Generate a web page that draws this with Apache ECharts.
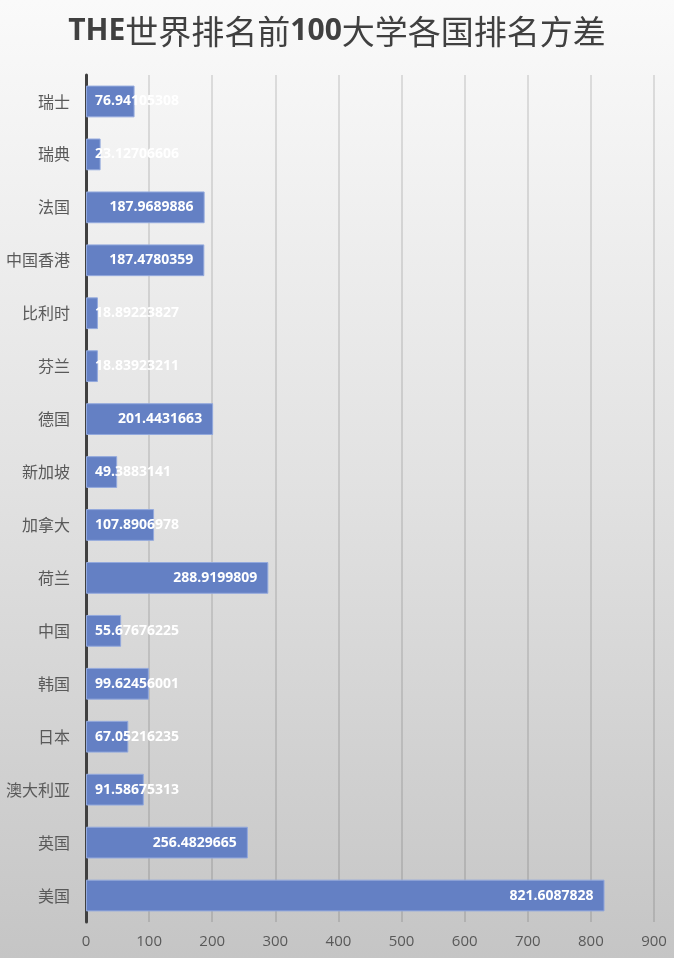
<!DOCTYPE html>
<html>
<head>
<meta charset="utf-8">
<script src="https://cdn.jsdelivr.net/npm/echarts@6/dist/echarts.min.js"></script>
<style>
  html, body { margin: 0; padding: 0; }
  #chart-container { width: 674px; height: 958px; }
</style>
</head>
<body>
<div id="chart-container"></div>
<script>
// 国家（自下而上）
var countries = ["美国", "英国", "澳大利亚", "日本", "韩国", "中国", "荷兰", "加拿大",
  "新加坡", "德国", "芬兰", "比利时", "中国香港", "法国", "瑞典", "瑞士"];
// 排名方差
var variances = [821.6087828, 256.4829665, 91.58675313, 67.05216235, 99.62456001,
  55.67676225, 288.9199809, 107.8906978, 49.3883141, 201.4431663, 18.83923211,
  18.89223827, 187.4780359, 187.9689886, 23.12706606, 76.94105308];
var axisTicks = [0, 100, 200, 300, 400, 500, 600, 700, 800, 900];

var dom = document.getElementById("chart-container");
var myChart = echarts.init(dom, null, { renderer: "canvas" });

// 数字标签：柱子够长放在末端，否则放在起点
var barData = variances.map(function (v) {
  return {
    value: v,
    label: {
      position: v > 150 ? "insideRight" : "insideLeft",
      distance: v > 150 ? 11 : 9,
    },
  };
});

var option = {
  backgroundColor: {
    type: "linear",
    x: 0, y: 0, x2: 0, y2: 1,
    colorStops: [
      { offset: 0, color: "#fafafa" },
      { offset: 0.5, color: "#e2e2e2" },
      { offset: 1, color: "#c5c5c5" },
    ],
  },
  title: {
    text: "{b|THE}{n|世界排名前}{b|100}{n|大学各国排名方差}",
    left: "center",
    top: 10,
    textStyle: {
      rich: {
        b: { fontSize: 30, fontWeight: "bold", color: "#404040", fontFamily: "Open Sans" },
        n: { fontSize: 33, fontWeight: "normal", color: "#404040", fontFamily: "Noto Sans CJK SC" },
      },
    },
  },
  grid: {
    left: 86,
    right: 20,
    top: 75,
    bottom: 36,
  },
  xAxis: {
    type: "value",
    min: axisTicks[0],
    max: axisTicks[axisTicks.length - 1],
    interval: 100,
    axisLine: { show: false },
    axisTick: { show: false },
    axisLabel: {
      color: "#595959",
      fontSize: 15,
      fontFamily: "Open Sans",
      margin: 12,
    },
    splitLine: {
      lineStyle: { color: "rgba(0,0,0,0.11)", width: 2 },
    },
  },
  yAxis: {
    type: "category",
    data: countries,
    axisLine: { show: true, lineStyle: { color: "#404040", width: 3 } },
    axisTick: { show: false },
    axisLabel: {
      color: "#595959",
      fontSize: 16,
      fontFamily: "Noto Sans CJK SC",
      margin: 16,
    },
  },
  series: [
    {
      name: "方差",
      type: "bar",
      data: barData,
      barCategoryGap: "40%",
      itemStyle: {
        color: "#6480c4",
        borderColor: "#93a9dd",
        borderWidth: 1,
      },
      label: {
        show: true,
        color: "#ffffff",
        fontSize: 14,
        fontWeight: "bold",
        fontFamily: "Open Sans",
        formatter: function (p) {
          return String(p.value);
        },
      },
      z: 3,
    },
  ],
};

myChart.setOption(option);
window.addEventListener("resize", myChart.resize);
</script>
</body>
</html>
